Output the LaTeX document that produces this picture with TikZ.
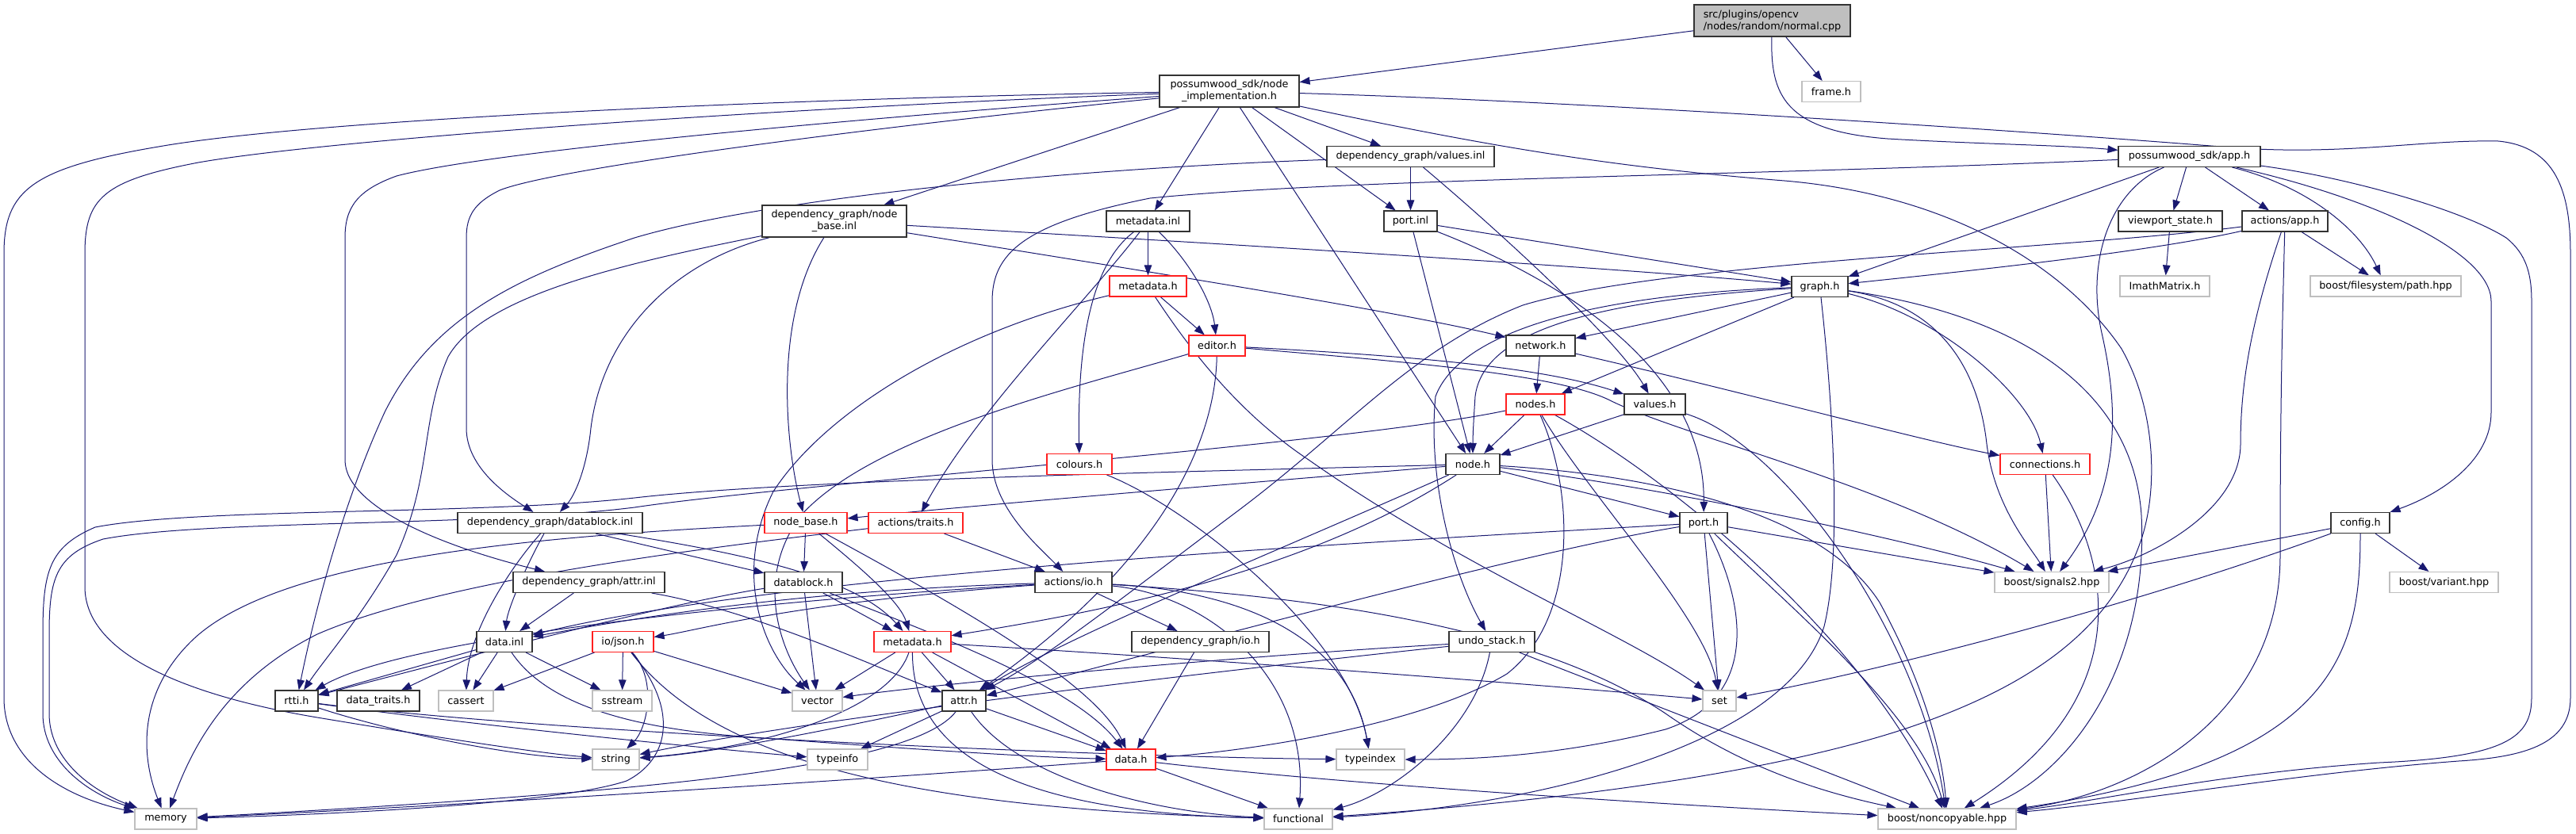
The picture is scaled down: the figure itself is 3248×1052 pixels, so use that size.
\documentclass[tikz,border=0pt]{standalone}
\usepackage{fontspec}
\setmainfont{DejaVu Sans}
\usetikzlibrary{arrows.meta}
\definecolor{ecol}{HTML}{191970}
\definecolor{gcol}{HTML}{BFBFBF}
\definecolor{rcol}{HTML}{FF2020}
\newcommand\dxfont{\fontsize{12.8}{15}\selectfont}
\pgfdeclarelayer{bg}
\pgfsetlayers{bg,main}
\begin{document}
\begin{tikzpicture}[x=1pt,y=-1pt,
  box/.style={draw=black!80, line width=1.1pt, minimum height=26pt, inner sep=0pt, font=\dxfont, fill=white},
  gbox/.style={box, draw=gcol},
  rbox/.style={box, draw=rcol},
  two/.style={minimum height=40pt, align=center},
  e/.style={draw=ecol, line width=1pt, -{Triangle[length=13pt,width=9.5pt]}}]
\useasboundingbox (0,0) rectangle (3248,1052);
% nodes
\node[box, fill=gcol, minimum height=40pt, align=left, minimum width=197pt] (src) at (2234.5,26) {src/plugins/opencv\\/nodes/random/normal.cpp};
\node[box, two, minimum width=176pt] (nimpl) at (1550,115) {possumwood\_sdk/node\\\_implementation.h};
\node[gbox, minimum width=74pt] (frame) at (2309,115.5) {frame.h};
\node[box, minimum width=211pt] (valuesinl) at (1778.5,197.5) {dependency\_graph/values.inl};
\node[box, minimum width=179pt] (apph) at (2760.5,197.5) {possumwood\_sdk/app.h};
\node[box, two, minimum width=182pt] (nbinl) at (1052,279) {dependency\_graph/node\\\_base.inl};
\node[box, minimum width=105pt] (mdinl) at (1447.5,279) {metadata.inl};
\node[box, minimum width=67pt] (portinl) at (1778.5,279) {port.inl};
\node[box, minimum width=131pt] (viewport) at (2736.5,279) {viewport\_state.h};
\node[box, minimum width=108pt] (actapp) at (2881,279) {actions/app.h};
\node[rbox, minimum width=97pt] (mdh1) at (1447.5,361) {metadata.h};
\node[box, minimum width=71pt] (graph) at (2294.5,361.5) {graph.h};
\node[gbox, minimum width=113pt] (imath) at (2729.5,361) {ImathMatrix.h};
\node[gbox, minimum width=190pt] (pathhpp) at (3008,361) {boost/filesystem/path.hpp};
\node[rbox, minimum width=71pt] (editor) at (1534.5,436) {editor.h};
\node[box, minimum width=87pt] (network) at (1942.5,436) {network.h};
\node[rbox, minimum width=74pt] (nodes) at (1936,510) {nodes.h};
\node[box, minimum width=77pt] (valuesh) at (2086.5,510) {values.h};
\node[rbox, minimum width=82pt] (colours) at (1361,585.5) {colours.h};
\node[box, minimum width=68pt] (nodeh) at (1857,585.5) {node.h};
\node[rbox, minimum width=113pt] (conn) at (2578.5,585.5) {connections.h};
\node[box, minimum width=233pt] (dbinl) at (693.5,659.5) {dependency\_graph/datablock.inl};
\node[rbox, minimum width=104pt] (nbh) at (1016,659.5) {node\_base.h};
\node[rbox, minimum width=119pt] (acttraits) at (1154.5,659.5) {actions/traits.h};
\node[box, minimum width=60pt] (porth) at (2148,659.5) {port.h};
\node[box, minimum width=74pt] (config) at (2976,659.5) {config.h};
\node[box, minimum width=191pt] (attrinl) at (742.5,734.5) {dependency\_graph/attr.inl};
\node[box, minimum width=98pt] (dbh) at (1013,734.5) {datablock.h};
\node[box, minimum width=97pt] (actio) at (1353.5,734.5) {actions/io.h};
\node[gbox, minimum width=144pt] (sig2) at (2587,734.5) {boost/signals2.hpp};
\node[gbox, minimum width=137pt] (variant) at (3081.5,734.5) {boost/variant.hpp};
\node[box, minimum width=70pt] (datainl) at (636,809.5) {data.inl};
\node[rbox, minimum width=77pt] (json) at (785.5,809.5) {io/json.h};
\node[rbox, minimum width=97pt] (mdh2) at (1150.5,809.5) {metadata.h};
\node[box, minimum width=173pt] (dgio) at (1513.5,809.5) {dependency\_graph/io.h};
\node[box, minimum width=108pt] (undo) at (1881,809.5) {undo\_stack.h};
\node[box, minimum width=54pt] (rtti) at (374,884) {rtti.h};
\node[box, minimum width=104pt] (dtraits) at (477,884) {data\_traits.h};
\node[gbox, minimum width=69pt] (cassert) at (587.5,884) {cassert};
\node[gbox, minimum width=75pt] (sstream) at (784.5,884) {sstream};
\node[gbox, minimum width=63pt] (vector) at (1030.5,884) {vector};
\node[box, minimum width=55pt] (attrh) at (1215.5,884) {attr.h};
\node[gbox, minimum width=42pt] (set) at (2168,884) {set};
\node[gbox, minimum width=59pt] (string) at (776.5,958) {string};
\node[gbox, minimum width=76pt] (typeinfo) at (1056,958) {typeinfo};
\node[rbox, minimum width=62pt] (datah) at (1426,958) {data.h};
\node[gbox, minimum width=86pt] (typeindex) at (1728,958) {typeindex};
\node[gbox, minimum width=78pt] (memory) at (209,1033) {memory};
\node[gbox, minimum width=86pt] (functional) at (1637,1033) {functional};
\node[gbox, minimum width=174pt] (noncopy) at (2455,1033) {boost/noncopyable.hpp};
\begin{pgfonlayer}{bg}
% src
\draw[e] (src) -- (nimpl);
\draw[e] (src) -- (frame);
\draw[e] (src) .. controls (2232,120) and (2250,165) .. (2380,175) .. controls (2500,182) and (2600,183) .. (apph);
% node_implementation
\draw[e] (nimpl) .. controls (1000,124) and (400,150) .. (200,185) .. controls (40,212) and (5,240) .. (5,320) -- (5,880) .. controls (5,960) and (80,1005) .. (memory);
\draw[e] (nimpl) .. controls (1000,135) and (420,175) .. (250,205) .. controls (130,228) and (107,250) .. (107,320) -- (107,740) .. controls (107,830) and (250,880) .. (400,905) .. controls (550,930) and (680,950) .. (string);
\draw[e] (nimpl) .. controls (1100,148) and (620,190) .. (500,222) .. controls (450,240) and (435,262) .. (435,300) -- (435,580) .. controls (435,640) and (560,690) .. (attrinl);
\draw[e] (nimpl) .. controls (1100,160) and (700,212) .. (630,240) .. controls (598,256) and (588,272) .. (588,300) -- (588,540) .. controls (588,590) and (640,625) .. (dbinl);
\draw[e] (nimpl) -- (nbinl);
\draw[e] (nimpl) -- (mdinl);
\draw[e] (nimpl) -- (valuesinl);
\draw[e] (nimpl) -- (portinl);
\draw[e] (nimpl) -- (nodeh);
\draw[e] (nimpl) .. controls (1900,190) and (2050,212) .. (2250,228) .. controls (2450,245) and (2600,330) .. (2675,440) .. controls (2720,520) and (2720,620) .. (2700,680) .. controls (2660,800) and (2550,870) .. (2400,920) .. controls (2200,985) and (1900,1015) .. (functional);
\draw[e] (nimpl) .. controls (2000,128) and (2550,165) .. (2800,185) .. controls (2950,198) and (3050,176) .. (3150,178) .. controls (3222,185) and (3241,240) .. (3241,320) -- (3241,880) .. controls (3241,940) and (3180,955) .. (3100,960) .. controls (2900,975) and (2700,1010) .. (noncopy);
% app.h
\draw[e] (apph) .. controls (2950,222) and (3100,262) .. (3160,300) .. controls (3185,320) and (3192,345) .. (3192,380) -- (3192,880) .. controls (3192,930) and (3160,955) .. (3000,962) .. controls (2800,975) and (2650,1010) .. (noncopy);
\draw[e] (apph) .. controls (3000,252) and (3141,320) .. (3141,380) -- (3141,520) .. controls (3141,580) and (3080,622) .. (config);
\draw[e] (apph) .. controls (2200,222) and (1700,225) .. (1450,250) .. controls (1290,282) and (1251,320) .. (1251,380) -- (1251,580) .. controls (1251,640) and (1310,690) .. (actio);
\draw[e] (apph) -- (graph);
\draw[e] (apph) -- (viewport);
\draw[e] (apph) -- (actapp);
\draw[e] (apph) .. controls (2910,235) and (2975,290) .. (pathhpp);
\draw[e] (apph) .. controls (2660,240) and (2630,330) .. (2650,420) .. controls (2668,500) and (2680,610) .. (sig2);
\draw[e] (viewport) -- (imath);
% actions/app.h
\draw[e] (actapp) .. controls (2700,320) and (2450,345) .. (graph);
\draw[e] (actapp) .. controls (2600,315) and (2100,330) .. (1920,385) .. controls (1780,440) and (1700,540) .. (1560,645) .. controls (1420,750) and (1320,830) .. (attrh);
\draw[e] (actapp) -- (pathhpp);
\draw[e] (actapp) .. controls (2840,400) and (2825,480) .. (2825,560) .. controls (2825,640) and (2720,700) .. (sig2);
\draw[e] (actapp) .. controls (2878,400) and (2875,500) .. (2875,700) .. controls (2875,900) and (2700,1000) .. (noncopy);
% values.inl
\draw[e] (valuesinl) -- (portinl);
\draw[e] (valuesinl) .. controls (1900,300) and (2040,430) .. (valuesh);
\draw[e] (valuesinl) .. controls (1300,215) and (950,255) .. (800,300) .. controls (650,350) and (545,400) .. (485,520) .. controls (430,640) and (395,780) .. (rtti);
% port.inl
\draw[e] (portinl) -- (graph);
\draw[e] (portinl) -- (nodeh);
\draw[e] (portinl) .. controls (1960,350) and (2150,460) .. (porth);
% metadata.inl
\draw[e] (mdinl) -- (mdh1);
\draw[e] (mdinl) .. controls (1500,330) and (1528,380) .. (editor);
\draw[e] (mdinl) .. controls (1380,330) and (1358,420) .. (colours);
\draw[e] (mdinl) .. controls (1370,380) and (1230,520) .. (acttraits);
% metadata.h
\draw[e] (mdh1) -- (editor);
\draw[e] (mdh1) .. controls (1200,420) and (1040,520) .. (975,620) .. controls (925,720) and (960,820) .. (vector);
\draw[e] (mdh1) .. controls (1500,440) and (1560,520) .. (1650,580) .. controls (1850,720) and (2050,800) .. (set);
% editor.h
\draw[e] (editor) .. controls (1800,450) and (1950,465) .. (valuesh);
\draw[e] (editor) .. controls (1750,455) and (1960,470) .. (2030,505) .. controls (2120,550) and (2380,610) .. (sig2);
\draw[e] (editor) .. controls (1350,490) and (1100,550) .. (1010,650) .. controls (950,730) and (985,820) .. (vector);
\draw[e] (editor) .. controls (1532,570) and (1450,720) .. (attrh);
% node_base.inl
\draw[e] (nbinl) .. controls (975,400) and (990,560) .. (nbh);
\draw[e] (nbinl) .. controls (850,330) and (760,420) .. (745,540) .. controls (740,590) and (725,625) .. (dbinl);
\draw[e] (nbinl) .. controls (800,330) and (610,370) .. (565,450) .. controls (530,530) and (545,600) .. (500,700) .. controls (455,780) and (410,830) .. (rtti);
\draw[e] (nbinl) .. controls (1500,305) and (2000,335) .. (graph);
\draw[e] (nbinl) .. controls (1400,335) and (1750,390) .. (network);
% node_base.h
\draw[e] (nbh) -- (dbh);
\draw[e] (nbh) .. controls (1090,720) and (1135,760) .. (mdh2);
\draw[e] (nbh) .. controls (1200,760) and (1380,860) .. (datah);
\draw[e] (nbh) .. controls (700,676) and (350,700) .. (240,810) .. controls (170,880) and (180,960) .. (memory);
% actions/traits.h
\draw[e] (acttraits) -- (actio);
\draw[e] (acttraits) .. controls (900,690) and (560,730) .. (400,800) .. controls (280,860) and (240,950) .. (memory);
% datablock.inl
\draw[e] (dbinl) -- (dbh);
\draw[e] (dbinl) .. controls (660,720) and (640,770) .. (datainl);
\draw[e] (dbinl) .. controls (640,720) and (590,800) .. (cassert);
\draw[e] (dbinl) .. controls (950,700) and (1080,730) .. (mdh2);
% attr.inl
\draw[e] (attrinl) -- (datainl);
\draw[e] (attrinl) .. controls (950,770) and (1100,840) .. (attrh);
% data.inl
\draw[e] (datainl) -- (rtti);
\draw[e] (datainl) -- (dtraits);
\draw[e] (datainl) -- (cassert);
\draw[e] (datainl) -- (sstream);
\draw[e] (datainl) .. controls (690,890) and (800,920) .. (950,930) .. controls (1150,945) and (1300,955) .. (datah);
% io/json.h
\draw[e] (json) -- (cassert);
\draw[e] (json) -- (sstream);
\draw[e] (json) .. controls (830,860) and (815,920) .. (string);
\draw[e] (json) -- (vector);
\draw[e] (json) .. controls (860,900) and (840,960) .. (790,985) .. controls (700,1015) and (400,1028) .. (memory);
\draw[e] (json) .. controls (900,960) and (1150,1020) .. (functional);
% actions/io.h
\draw[e] (actio) .. controls (1000,745) and (800,780) .. (datainl);
\draw[e] (actio) .. controls (1000,760) and (880,795) .. (json);
\draw[e] (actio) -- (dgio);
\draw[e] (actio) .. controls (1560,745) and (1700,800) .. (typeindex);
\draw[e] (actio) .. controls (1520,750) and (1650,850) .. (functional);
\draw[e] (actio) .. controls (1000,755) and (520,800) .. (rtti);
\draw[e] (actio) .. controls (1700,755) and (1950,800) .. (2100,900) .. controls (2200,970) and (2300,1000) .. (noncopy);
% dependency_graph/io.h
\draw[e] (dgio) -- (datah);
% datablock.h
\draw[e] (dbh) -- (vector);
\draw[e] (dbh) -- (mdh2);
\draw[e] (dbh) .. controls (1150,790) and (1350,860) .. (datah);
\draw[e] (dbh) .. controls (850,760) and (620,820) .. (rtti);
% metadata.h (2)
\draw[e] (mdh2) -- (vector);
\draw[e] (mdh2) -- (attrh);
\draw[e] (mdh2) -- (datah);
\draw[e] (mdh2) .. controls (1500,830) and (1900,860) .. (set);
\draw[e] (mdh2) .. controls (1120,900) and (950,945) .. (string);
\draw[e] (mdh2) .. controls (1150,960) and (1300,1025) .. (functional);
% attr.h
\draw[e] (attrh) -- (datah);
\draw[e] (attrh) -- (typeinfo);
\draw[e] (attrh) .. controls (1050,920) and (900,950) .. (string);
\draw[e] (attrh) .. controls (1150,970) and (800,1000) .. (memory);
\draw[e] (attrh) .. controls (1280,980) and (1450,1025) .. (functional);
% data.h
\draw[e] (datah) .. controls (1000,990) and (500,1020) .. (memory);
\draw[e] (datah) -- (functional);
\draw[e] (datah) .. controls (1700,990) and (2100,1015) .. (noncopy);
% rtti.h
\draw[e] (rtti) .. controls (500,925) and (650,955) .. (string);
\draw[e] (rtti) .. controls (600,915) and (900,945) .. (typeinfo);
\draw[e] (rtti) .. controls (700,925) and (1400,955) .. (typeindex);
% undo_stack.h
\draw[e] (undo) .. controls (1600,825) and (1200,860) .. (vector);
\draw[e] (undo) .. controls (1500,850) and (1000,910) .. (string);
\draw[e] (undo) .. controls (1860,920) and (1760,1000) .. (functional);
\draw[e] (undo) -- (noncopy);
% node.h
\draw[e] (nodeh) -- (porth);
\draw[e] (nodeh) .. controls (2100,615) and (2400,680) .. (sig2);
\draw[e] (nodeh) .. controls (2100,600) and (2300,650) .. (2370,760) .. controls (2430,870) and (2450,960) .. (noncopy);
\draw[e] (nodeh) .. controls (1500,595) and (1000,605) .. (800,628) .. controls (600,650) and (250,640) .. (120,665) .. controls (62,690) and (54,720) .. (54,800) -- (54,900) .. controls (54,960) and (110,1000) .. (memory);
\draw[e] (nodeh) .. controls (1500,615) and (1200,640) .. (nbh);
\draw[e] (nodeh) .. controls (1600,700) and (1350,800) .. (attrh);
\draw[e] (nodeh) .. controls (1650,720) and (1400,770) .. (mdh2);
% nodes.h
\draw[e] (nodes) -- (nodeh);
\draw[e] (nodes) .. controls (1700,560) and (1000,610) .. (800,640) .. controls (600,665) and (260,655) .. (130,680) .. controls (70,700) and (62,730) .. (62,800) -- (62,900) .. controls (62,955) and (110,995) .. (memory);
\draw[e] (nodes) .. controls (2000,620) and (2150,780) .. (set);
\draw[e] (nodes) .. controls (2100,600) and (2350,800) .. (noncopy);
\draw[e] (nodes) .. controls (1985,620) and (1990,780) .. (1900,850) .. controls (1800,910) and (1600,945) .. (datah);
% values.h
\draw[e] (valuesh) -- (nodeh);
\draw[e] (valuesh) .. controls (2250,560) and (2420,800) .. (noncopy);
% graph.h
\draw[e] (graph) -- (network);
\draw[e] (graph) -- (nodes);
\draw[e] (graph) .. controls (2000,380) and (1870,420) .. (1860,500) .. controls (1858,530) and (1857,550) .. (nodeh);
\draw[e] (graph) .. controls (2000,372) and (1840,420) .. (1810,500) .. controls (1800,600) and (1830,720) .. (undo);
\draw[e] (graph) .. controls (2450,400) and (2560,500) .. (conn);
\draw[e] (graph) .. controls (2450,385) and (2495,470) .. (2505,560) .. controls (2515,640) and (2560,690) .. (sig2);
\draw[e] (graph) .. controls (2560,400) and (2690,500) .. (2700,650) .. controls (2710,850) and (2600,985) .. (noncopy);
\draw[e] (graph) .. controls (2312,520) and (2322,700) .. (2300,790) .. controls (2250,950) and (1900,1020) .. (functional);
% network.h
\draw[e] (network) -- (nodes);
\draw[e] (network) .. controls (2200,495) and (2420,555) .. (conn);
% port.h
\draw[e] (porth) .. controls (1900,700) and (1400,840) .. (attrh);
\draw[e] (porth) .. controls (1800,680) and (1000,720) .. (datainl);
\draw[e] (porth) -- (set);
\draw[e] (porth) .. controls (2200,760) and (2220,880) .. (2100,920) .. controls (1960,955) and (1850,958) .. (typeindex);
\draw[e] (porth) .. controls (2250,760) and (2420,900) .. (noncopy);
\draw[e] (porth) -- (sig2);
% connections.h
\draw[e] (conn) -- (sig2);
\draw[e] (conn) .. controls (2660,700) and (2700,880) .. (noncopy);
% config.h
\draw[e] (config) -- (sig2);
\draw[e] (config) .. controls (2700,760) and (2400,840) .. (set);
\draw[e] (config) -- (variant);
\draw[e] (config) .. controls (2976,820) and (2950,960) .. (noncopy);
% colours.h
\draw[e] (colours) .. controls (1500,640) and (1700,800) .. (typeindex);
\end{pgfonlayer}
\end{tikzpicture}
\end{document}
